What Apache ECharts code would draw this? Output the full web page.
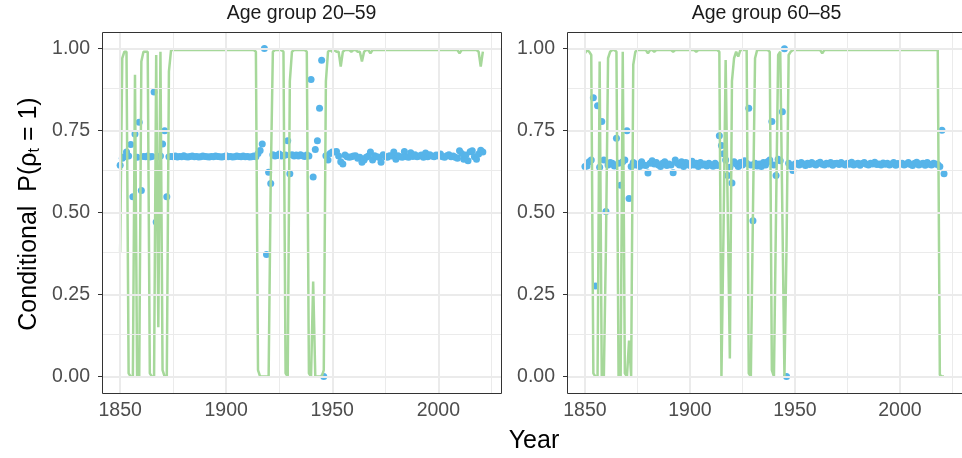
<!DOCTYPE html>
<html><head><meta charset="utf-8">
<script src="https://cdn.jsdelivr.net/npm/echarts@6/dist/echarts.min.js"></script>
<style>html,body{margin:0;padding:0;background:#fff}#c{width:962px;height:458px}</style>
</head><body><div id="c"></div>
<script>
// ---------- data ----------
const firstYear = 1850;
const lastYear = 2021;
const panelTitles = ['Age group 20\u201359', 'Age group 60\u201385'];
const xTicks = [1850, 1900, 1950, 2000];
const xMinor = [1875, 1925, 1975, 2025];
const yTicks = [0, 0.25, 0.5, 0.75, 1];
const yMinor = [0.125, 0.375, 0.625, 0.875];

// green line, age 20-59 (1850..2021)
const green2059 = [
0.38,0.97,0.99,0.99,0.01,0,0,0.92,0,0,
0.96,0.99,0.99,0.99,0.01,0,0,0.98,0.15,0.99,
0.02,0,0,0.93,0.995,0.995,0.995,0.995,0.995,0.995,
0.995,0.995,0.995,0.995,0.995,0.995,0.995,0.995,0.995,0.995,
0.995,0.995,0.995,0.995,0.995,0.995,0.995,0.995,0.995,0.995,
0.995,0.995,0.995,0.995,0.995,0.995,0.995,0.995,0.995,0.995,
0.995,0.995,0.995,0.995,0.99,0.02,0,0,0,0,
0,0.6,0.99,0.995,0.995,0.995,0.995,0.99,0.01,0,
0.9,0.99,0.995,0.995,0.995,0.995,0.995,0.995,0.99,0.01,
0,0.29,0,0,0,0,0.02,0.9,0.99,0.995,
0.99,0.995,0.99,0.99,0.945,0.99,0.995,0.995,0.995,0.99,
0.995,0.995,0.99,0.99,0.96,0.99,0.995,0.995,0.985,0.995,
0.995,0.995,0.995,0.995,0.995,0.995,0.995,0.995,0.995,0.995,
0.995,0.995,0.995,0.995,0.995,0.995,0.995,0.995,0.995,0.995,
0.995,0.995,0.995,0.995,0.995,0.995,0.995,0.995,0.995,0.995,
0.995,0.995,0.995,0.995,0.995,0.995,0.995,0.995,0.995,0.995,
0.985,0.995,0.995,0.995,0.995,0.995,0.995,0.995,0.995,0.99,
0.945,0.99
];

// blue points, age 20-59
const blue2059 = [
0.644,0.665,0.670,0.684,0.672,0.707,0.548,0.739,0.668,0.775,
0.567,0.671,0.670,0.672,0.669,0.671,0.867,0.471,0.670,0.672,
0.709,0.749,0.548,0.670,
0.671,0.670,0.672,0.669,0.671,0.670,0.673,0.670,0.669,0.671,
0.672,0.670,0.671,0.669,0.670,0.672,0.671,0.670,0.669,0.671,
0.670,0.672,0.671,0.670,0.669,0.671,0.673,0.670,0.671,0.669,
0.670,0.672,0.671,0.670,0.672,0.670,0.671,0.669,0.670,0.672,
0.670,0.680,0.689,0.709,1.0,0.372,0.623,0.588,
0.676,0.672,0.674,0.678,0.672,0.674,0.675,0.719,0.618,0.676,
0.672,0.675,0.672,0.676,0.673,0.671,0.675,0.672,
0.905,0.608,0.692,0.719,0.818,0.964,0.0,
0.673,0.660,0.680,0.684,0.684,0.686,0.672,0.655,0.648,0.675,
0.670,0.668,0.670,0.672,0.673,0.665,0.668,0.653,0.660,0.668,
0.672,0.684,0.660,0.673,0.670,0.668,0.653,0.676,0.670,0.668,
0.673,0.672,0.684,0.662,0.673,0.670,0.668,0.686,0.670,0.668,
0.682,0.671,0.676,0.670,0.672,0.675,0.668,0.681,0.670,0.676,
0.672,0.670,0.675,0.672,0.678,0.670,0.668,0.673,0.676,0.670,
0.672,0.668,0.665,0.688,0.680,0.662,0.675,0.658,0.685,0.688,
0.670,0.662,0.678,0.690,0.684
];

// green line, age 60-85
const green6085 = [
0.985,0.995,0.99,0.98,0.01,0,0,0.96,0,0,
0.4,0.97,0.99,0.995,0.995,0.99,0,0,0.99,0.01,
0,0.11,0,0.95,0.99,0.995,0.995,0.995,0.995,0.995,
0.985,0.995,0.995,0.99,0.995,0.995,0.995,0.995,0.995,0.995,
0.995,0.995,0.99,0.995,0.995,0.995,0.995,0.995,0.995,0.995,
0.995,0.995,0.995,0.99,0.995,0.995,0.995,0.995,0.995,0.995,
0.995,0.995,0.995,0.995,0.99,0,0.45,0.965,0.5,0.055,
0.9,0.97,0.99,0.975,0.995,0.995,0.995,0.995,0.01,0,
0.5,0.97,0.995,0.995,0.995,0.995,0.995,0.995,0.99,0.02,
0,0.5,0.98,0.99,0.5,0,0.4,0.98,0.99,0.995,
0.995,0.995,0.995,0.995,0.995,0.995,0.995,0.995,0.995,0.995,
0.995,0.995,0.995,0.985,0.995,0.995,0.995,0.995,0.995,0.995,
0.995,0.995,0.995,0.995,0.995,0.995,0.995,0.995,0.995,0.995,
0.995,0.995,0.995,0.995,0.995,0.995,0.995,0.995,0.995,0.995,
0.995,0.995,0.995,0.995,0.995,0.995,0.995,0.995,0.995,0.995,
0.995,0.995,0.995,0.995,0.995,0.995,0.995,0.995,0.995,0.995,
0.995,0.995,0.995,0.995,0.995,0.995,0.995,0.995,0.995,0.005,
0,0
];

// blue points, age 60-85
const blue6085 = [
0.640,0.642,0.655,0.660,0.850,0.276,0.825,0.638,0.777,0.660,
0.503,0.645,0.652,0.650,0.642,0.726,0.650,0.583,0.655,0.660,
0.749,0.543,0.640,0.652,0.645,0.648,0.640,0.655,0.645,0.643,
0.620,0.650,0.658,0.648,0.652,0.645,0.640,0.650,0.655,0.643,
0.648,0.645,0.621,0.660,0.650,0.645,0.655,0.640,0.652,0.648,
0.643,0.656,0.645,0.650,0.640,0.652,0.645,0.648,0.642,0.650,
0.645,0.641,0.650,0.643,
0.734,0.704,0.679,0.660,0.613,0.638,0.590,0.655,0.648,0.640,
0.652,0.645,0.658,0.650,0.818,0.645,0.475,0.650,0.642,0.648,
0.640,0.652,0.645,0.655,0.660,0.777,0.645,0.613,0.662,0.658,
0.807,0.999,0.0,0.650,0.642,0.628,0.648,
0.650,0.645,0.652,0.648,0.643,0.650,0.646,0.652,0.648,0.645,
0.650,0.653,0.647,0.645,0.650,0.648,0.652,0.644,0.649,0.650,
0.646,0.652,0.648,0.645,0.650,0.647,0.653,0.645,0.648,0.650,
0.644,0.649,0.652,0.647,0.645,0.650,0.648,0.653,0.646,0.648,
0.645,0.651,0.647,0.650,0.645,0.648,0.652,0.644,0.649,0.647,
0.650,0.645,0.648,0.652,0.646,0.643,0.650,0.653,0.645,0.648,
0.650,0.644,0.652,0.647,0.645,0.650,0.648,0.646,0.640,
0.751,0.618
];

// ---------- chart ----------
const years = [];
for (let y = firstYear; y <= lastYear; y++) years.push(y);
const pairs = arr => years.map((y, i) => [y, arr[i]]);

const FONT = '"Liberation Sans", Arial, Helvetica, sans-serif';
const panels = [
  {left: 102, top: 32, width: 399, height: 361, green: green2059, blue: blue2059},
  {left: 567, top: 32, width: 399, height: 361, green: green6085, blue: blue6085}
];
const span = lastYear - firstYear;
const xMin = firstYear - 0.05 * span, xMax = lastYear + 0.05 * span;

const grids = [], xAxes = [], yAxes = [], series = [], graphics = [];
panels.forEach((p, k) => {
  grids.push({left: p.left, top: p.top, width: p.width, height: p.height, show: false, containLabel: false});
  xAxes.push({
    type: 'value', gridIndex: k, min: xMin, max: xMax,
    axisLine: {show: false},
    axisTick: {show: true, customValues: xTicks, length: 4, inside: false, lineStyle: {color: '#333333', width: 1}},
    axisLabel: {customValues: xTicks, margin: 8, color: '#4D4D4D', fontSize: 19.5, fontFamily: FONT,
      formatter: v => String(Math.round(v))},
    splitLine: {show: false}
  });
  yAxes.push({
    type: 'value', gridIndex: k, min: -0.05, max: 1.05,
    axisLine: {show: false},
    axisTick: {show: true, customValues: yTicks, length: 4, inside: false, lineStyle: {color: '#333333', width: 1}},
    axisLabel: {customValues: yTicks, margin: 12, color: '#4D4D4D', fontSize: 19.5, fontFamily: FONT,
      formatter: v => v.toFixed(2)},
    splitLine: {show: false}
  });
  const ml = [];
  xMinor.forEach(v => ml.push({xAxis: v, lineStyle: {color: '#EBEBEB', width: 1, type: 'solid'}}));
  yMinor.forEach(v => ml.push({yAxis: v, lineStyle: {color: '#EBEBEB', width: 1, type: 'solid'}}));
  xTicks.forEach(v => ml.push({xAxis: v, lineStyle: {color: '#EBEBEB', width: 2, type: 'solid'}}));
  yTicks.forEach(v => ml.push({yAxis: v, lineStyle: {color: '#EBEBEB', width: 2, type: 'solid'}}));
  series.push({
    type: 'scatter', xAxisIndex: k, yAxisIndex: k, data: [[firstYear, 0]], symbolSize: 0,
    silent: true, z: 1,
    markLine: {silent: true, symbol: ['none', 'none'], label: {show: false}, animation: false, data: ml}
  });
  series.push({
    type: 'scatter', xAxisIndex: k, yAxisIndex: k, data: pairs(p.blue),
    symbol: 'circle', symbolSize: 7, itemStyle: {color: '#56B4E9', opacity: 1}, z: 2
  });
  series.push({
    type: 'line', xAxisIndex: k, yAxisIndex: k, data: pairs(p.green),
    showSymbol: false, symbol: 'none', lineStyle: {color: '#A6D89A', width: 2.5}, z: 3
  });
  graphics.push({
    type: 'rect', z: 100, silent: true,
    shape: {x: p.left + 0.5, y: p.top + 0.5, width: p.width, height: p.height},
    style: {fill: 'none', stroke: '#333333', lineWidth: 1}
  });
  graphics.push({
    type: 'text', z: 100, silent: true, x: p.left + p.width / 2, y: 14,
    style: {text: panelTitles[k], fill: '#1A1A1A', fontSize: 19.5, fontFamily: FONT, align: 'center', verticalAlign: 'middle'}
  });
});

graphics.push({
  type: 'text', z: 100, silent: true, x: 534, y: 441,
  style: {text: 'Year', fill: '#000', fontSize: 25, fontFamily: FONT, align: 'center', verticalAlign: 'middle'}
});
graphics.push({
  type: 'text', z: 100, silent: true, x: 29, y: 214, rotation: Math.PI / 2,
  style: {
    text: '{a|Conditional  P(\u03C1}{s|t}{a| = 1)}',
    fill: '#000', fontSize: 25, fontFamily: FONT, align: 'center', verticalAlign: 'middle',
    rich: {
      a: {fontSize: 25, fontFamily: FONT, fill: '#000', color: '#000'},
      s: {fontSize: 16, fontFamily: FONT, fill: '#000', color: '#000', padding: [11, 0, 0, 0]}
    }
  }
});

const chart = echarts.init(document.getElementById('c'), null, {renderer: 'canvas'});
chart.setOption({
  animation: false,
  backgroundColor: '#ffffff',
  grid: grids, xAxis: xAxes, yAxis: yAxes, series: series, graphic: graphics
});
</script></body></html>
